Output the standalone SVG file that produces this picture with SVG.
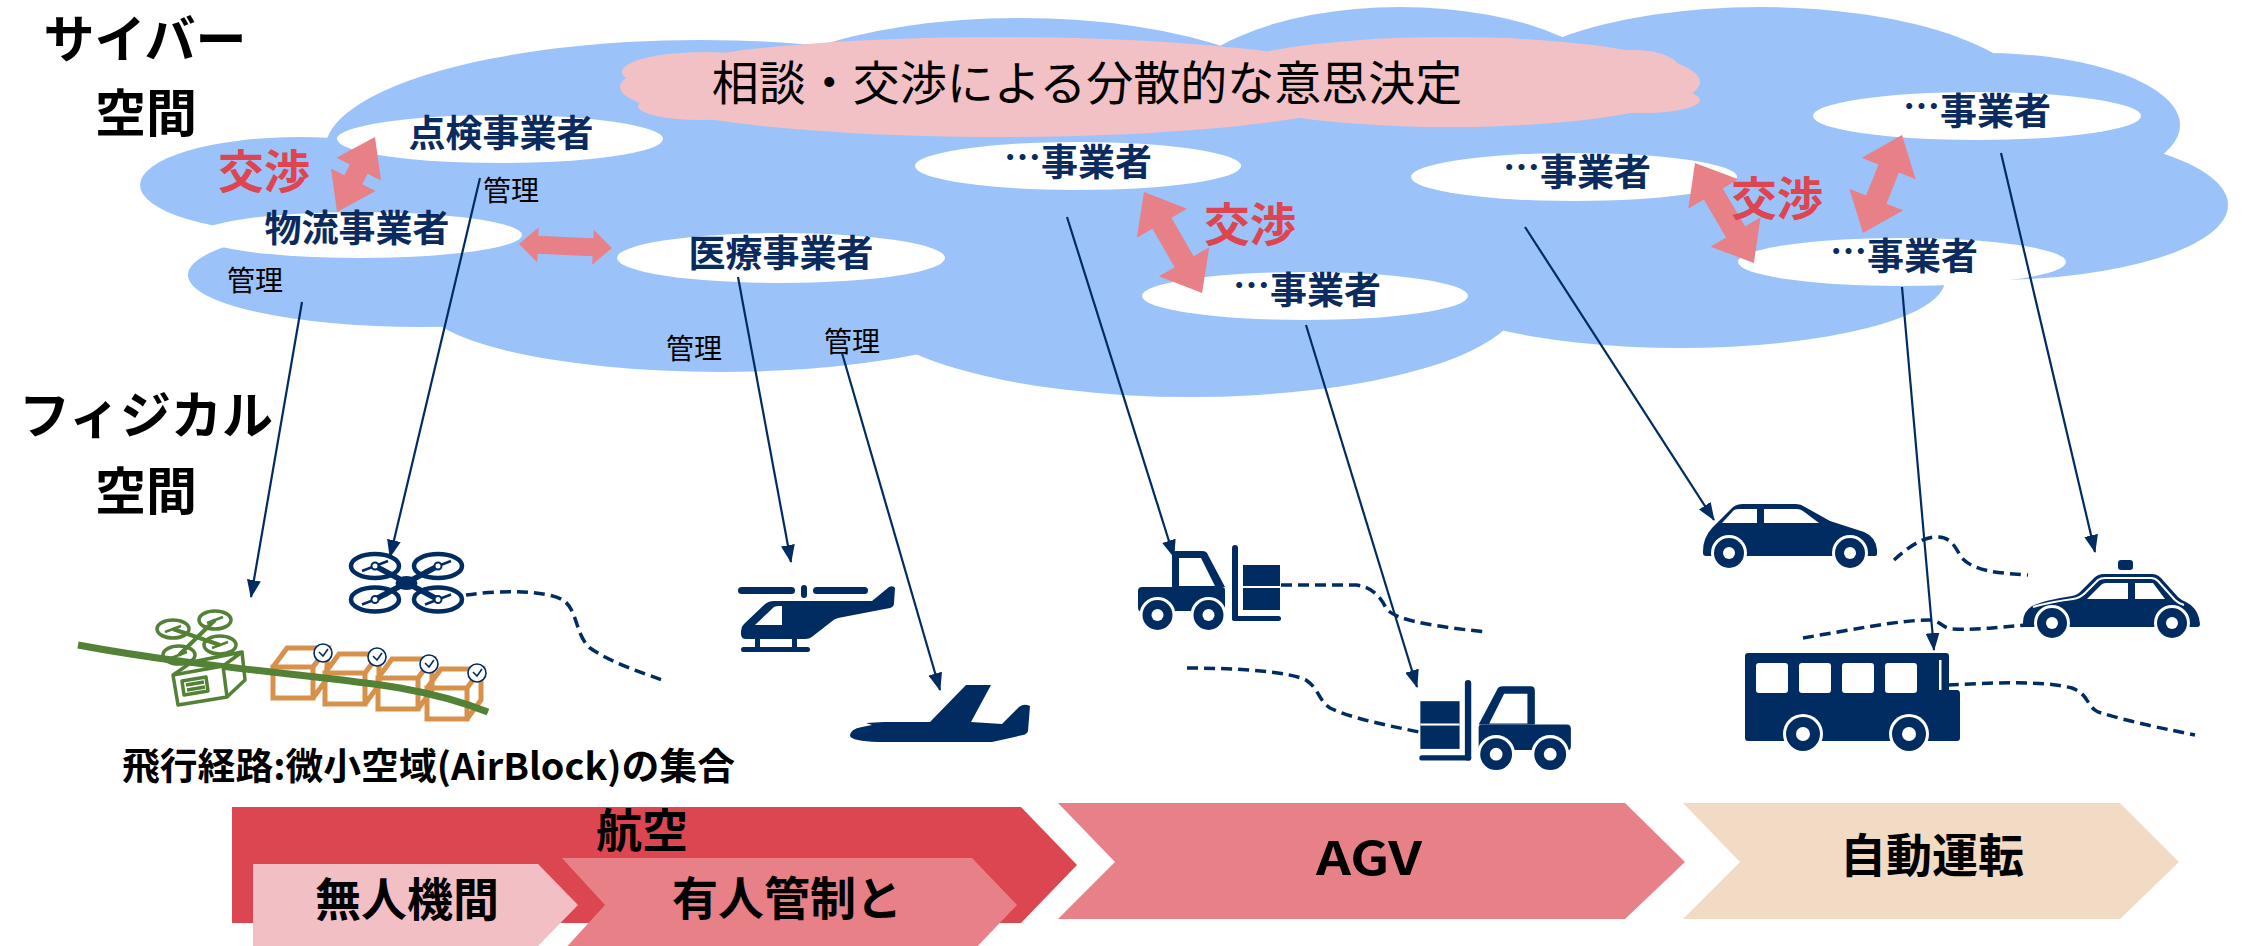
<svg xmlns="http://www.w3.org/2000/svg" xmlns:xlink="http://www.w3.org/1999/xlink" width="2242" height="946" viewBox="0 0 2242 946">
  <style>
    text { font-family: 'Noto Sans CJK JP', 'Noto Sans', sans-serif; }
    .title { font-size: 51px; font-weight: 700; fill: #000; text-anchor: middle; }
    .biz { font-size: 37px; font-weight: 700; fill: #0B2B5E; text-anchor: middle; }
    .nego { font-size: 46px; font-weight: 700; fill: #DD4650; text-anchor: middle; }
    .kanri { font-size: 28px; fill: #000; }
    .chev { font-size: 46px; font-weight: 700; fill: #000; text-anchor: middle; }
    .navy { fill: #012C62; }
    .wh { fill: #fff; }
    .oval { fill: #fff; }
    .darr { fill: #E88088; }
    .conn { stroke: #012C62; stroke-width: 2.2; fill: none; marker-end: url(#ah); }
    .dash { stroke: #012C62; stroke-width: 3.5; fill: none; stroke-dasharray: 11 6; }
    .rotor { fill: none; stroke: #012C62; stroke-width: 4.5; }
    .grn { fill: none; stroke: #538135; stroke-width: 3.5; stroke-linejoin: round; }
    .cube { fill: none; stroke: #D8914A; stroke-width: 5; stroke-linejoin: miter; }
    .clock { fill: #fff; stroke: #012C62; stroke-width: 1.6; }
  </style>
  <defs>
    <marker id="ah" viewBox="0 0 18 14" markerWidth="18" markerHeight="14" refX="17" refY="7" orient="auto" markerUnits="userSpaceOnUse">
      <path d="M0,0 L18,7 L0,14 Z" fill="#012C62"/>
    </marker>
    <g id="wheel15">
      <circle r="18" fill="#fff"/>
      <circle r="15" fill="#012C62"/>
      <circle r="6" fill="#fff"/>
    </g>
    <g id="wheel17">
      <circle r="20" fill="#fff"/>
      <circle r="17" fill="#012C62"/>
      <circle r="7" fill="#fff"/>
    </g>
    <!-- forklift drawn with the truck on the left and the mast on the right -->
    <g id="forklift">
      <path class="navy" d="M36,42 L36,10 Q36,6 40,6 L66,6 Q71,6 72,10 L89,42 Z"/>
      <path class="wh" d="M43,13 L65,13 L79,41 L43,41 Z"/>
      <path class="navy" d="M6,42 L86,42 Q89,42 89,45 L89,66 L4,66 Q2,66 2,62 L2,46 Q2,42 6,42 Z"/>
      <use xlink:href="#wheel15" x="21.5" y="70"/>
      <use xlink:href="#wheel15" x="72.5" y="70"/>
      <rect class="navy" x="96" y="0" width="6" height="76" rx="3"/>
      <rect class="navy" x="96" y="71" width="49" height="5" rx="2.5"/>
      <rect class="navy" x="107" y="20" width="37" height="45"/>
      <rect class="wh" x="107" y="41" width="37" height="2"/>
    </g>
  </defs>

  <rect width="2242" height="946" fill="#fff"/>

  <!-- cyber space cloud -->
  <g id="cyber-cloud" fill="#9BC3FA">
    <ellipse cx="300" cy="185" rx="160" ry="48"/>
    <ellipse cx="420" cy="275" rx="232" ry="52"/>
    <ellipse cx="720" cy="300" rx="300" ry="72"/>
    <ellipse cx="1190" cy="300" rx="330" ry="97"/>
    <ellipse cx="1680" cy="280" rx="265" ry="68"/>
    <ellipse cx="1990" cy="205" rx="238" ry="75"/>
    <ellipse cx="1985" cy="125" rx="195" ry="72"/>
    <ellipse cx="1760" cy="110" rx="280" ry="103"/>
    <ellipse cx="1400" cy="110" rx="230" ry="103"/>
    <ellipse cx="1020" cy="126" rx="300" ry="108"/>
    <ellipse cx="700" cy="150" rx="375" ry="110"/>
    <ellipse cx="1150" cy="200" rx="720" ry="140"/>
  </g>

  <!-- consultation cloud -->
  <g id="decision-cloud">
    <g fill="#F2C1C5">
      <ellipse cx="1000" cy="87" rx="380" ry="50"/>
      <ellipse cx="1450" cy="82" rx="250" ry="45"/>
      <ellipse cx="705" cy="72" rx="83" ry="20"/>
      <ellipse cx="700" cy="106" rx="62" ry="14"/>
      <ellipse cx="1635" cy="70" rx="45" ry="20"/>
      <ellipse cx="1645" cy="100" rx="55" ry="13"/>
    </g>
    <text x="1087" y="100" font-size="47" fill="#000" text-anchor="middle">相談・交渉による分散的な意思決定</text>
  </g>

  <!-- operator nodes -->
  <g id="node-inspection">
    <ellipse class="oval" cx="500" cy="139" rx="163" ry="24"/>
    <text class="biz" x="501" y="147">点検事業者</text>
  </g>
  <g id="node-logistics">
    <ellipse class="oval" cx="360" cy="235" rx="162" ry="23"/>
    <text class="biz" x="357" y="242">物流事業者</text>
  </g>
  <g id="node-medical">
    <ellipse class="oval" cx="781" cy="258" rx="164" ry="25"/>
    <text class="biz" x="781" y="267">医療事業者</text>
  </g>
  <g id="node-op-a">
    <ellipse class="oval" cx="1078" cy="166" rx="163" ry="24"/>
    <text class="biz" x="1078" y="176"><tspan dy="-5">…</tspan><tspan dy="5">事業者</tspan></text>
  </g>
  <g id="node-op-b">
    <ellipse class="oval" cx="1305" cy="296" rx="163" ry="24"/>
    <text class="biz" x="1307" y="304"><tspan dy="-5">…</tspan><tspan dy="5">事業者</tspan></text>
  </g>
  <g id="node-op-c">
    <ellipse class="oval" cx="1574" cy="177" rx="163" ry="24"/>
    <text class="biz" x="1577" y="186"><tspan dy="-5">…</tspan><tspan dy="5">事業者</tspan></text>
  </g>
  <g id="node-op-d">
    <ellipse class="oval" cx="1902" cy="262" rx="164" ry="24"/>
    <text class="biz" x="1904" y="270"><tspan dy="-5">…</tspan><tspan dy="5">事業者</tspan></text>
  </g>
  <g id="node-op-e">
    <ellipse class="oval" cx="1977" cy="116" rx="164" ry="24"/>
    <text class="biz" x="1977" y="125"><tspan dy="-5">…</tspan><tspan dy="5">事業者</tspan></text>
  </g>

  <!-- negotiation arrows -->
  <g id="negotiation">
    <path class="darr" transform="translate(375,137) rotate(116.9)" d="M0,0 L36,-25 L36,-10 L48,-10 L48,-25 L84,0 L48,25 L48,10 L36,10 L36,25 Z"/>
    <path class="darr" transform="translate(519,244) rotate(2.46)" d="M0,0 L19,-17.5 L19,-9 L74,-9 L74,-17.5 L93,0 L74,17.5 L74,9 L19,9 L19,17.5 Z"/>
    <path class="darr" transform="translate(1144,192) rotate(60.1)" d="M0,0 L36,-29 L36,-11 L80.5,-11 L80.5,-29 L116.5,0 L80.5,29 L80.5,11 L36,11 L36,29 Z"/>
    <path class="darr" transform="translate(1695,163) rotate(59.5)" d="M0,0 L36,-29 L36,-11 L80,-11 L80,-29 L116,0 L80,29 L80,11 L36,11 L36,29 Z"/>
    <path class="darr" transform="translate(1902,135) rotate(111.7)" d="M0,0 L36,-29 L36,-11 L69.5,-11 L69.5,-29 L105.5,0 L69.5,29 L69.5,11 L36,11 L36,29 Z"/>
    <text class="nego" x="264" y="188">交渉</text>
    <text class="nego" x="1250" y="241">交渉</text>
    <text class="nego" x="1777" y="215">交渉</text>
  </g>

  <!-- management labels -->
  <g id="kanri-labels">
    <text class="kanri" x="483" y="201">管理</text>
    <text class="kanri" x="227" y="291">管理</text>
    <text class="kanri" x="666" y="359">管理</text>
    <text class="kanri" x="824" y="352">管理</text>
  </g>

  <!-- space headings -->
  <g id="headings">
    <text class="title" x="145" y="58">サイバー</text>
    <text class="title" x="146" y="132">空間</text>
    <text class="title" x="146" y="434">フィジカル</text>
    <text class="title" x="146" y="510">空間</text>
  </g>

  <!-- movement traces -->
  <g id="traces">
    <path class="dash" d="M466,595 C500,590 545,590 563,600 C578,610 575,635 590,648 C610,662 640,672 662,680"/>
    <path class="dash" d="M1281,585 L1356,585 C1372,587 1380,596 1386,608 C1394,622 1450,628 1486,632"/>
    <path class="dash" d="M1187,668 C1240,668 1290,672 1306,680 C1320,690 1318,700 1330,708 C1350,718 1390,726 1419,732"/>
    <path class="dash" d="M1894,560 C1905,550 1920,538 1935,537 C1952,536 1955,548 1962,558 C1975,572 2000,573 2028,575"/>
    <path class="dash" d="M1803,638 C1850,630 1900,620 1929,620 C1940,620 1942,628 1952,629 C1980,630 2000,627 2028,625"/>
    <path class="dash" d="M1948,685 C1990,683 2040,680 2072,688 C2090,695 2085,705 2098,712 C2130,722 2170,730 2195,735"/>
  </g>

  <!-- flight route made of AirBlocks -->
  <g id="airblock-route">
    <g>
      <path class="cube" d="M273,667 h40 v31 h-40 Z M273,667 l14,-19 h40 l-14,19 M327,648 v31 l-14,19"/>
      <path class="cube" d="M325,673 h40 v31 h-40 Z M325,673 l14,-19 h40 l-14,19 M379,654 v31 l-14,19"/>
      <path class="cube" d="M378,678 h40 v31 h-40 Z M378,678 l14,-19 h40 l-14,19 M432,659 v31 l-14,19"/>
      <path class="cube" d="M427,688 h40 v31 h-40 Z M427,688 l14,-19 h40 l-14,19 M481,669 v31 l-14,19"/>
    </g>
    <path d="M78,645 C200,668 330,676 400,688 C440,695 470,705 488,712" fill="none" stroke="#538135" stroke-width="7"/>
    <g>
      <circle class="clock" cx="323" cy="653" r="9"/>
      <path d="M319,652 L323,656 L328,649" fill="none" stroke="#012C62" stroke-width="1.6"/>
      <circle class="clock" cx="377" cy="657" r="9"/>
      <path d="M373,656 L377,660 L382,653" fill="none" stroke="#012C62" stroke-width="1.6"/>
      <circle class="clock" cx="429" cy="664" r="9"/>
      <path d="M425,663 L429,667 L434,660" fill="none" stroke="#012C62" stroke-width="1.6"/>
      <circle class="clock" cx="477" cy="673" r="9"/>
      <path d="M473,672 L477,676 L482,669" fill="none" stroke="#012C62" stroke-width="1.6"/>
    </g>
    <!-- delivery drone carrying a parcel -->
    <g>
      <path d="M173,629 L220,645 M215,620 L179,655" fill="none" stroke="#538135" stroke-width="4"/>
      <ellipse class="grn" cx="173" cy="629" rx="16" ry="9"/>
      <ellipse class="grn" cx="215" cy="620" rx="16" ry="9"/>
      <ellipse class="grn" cx="179" cy="655" rx="16" ry="9"/>
      <ellipse class="grn" cx="220" cy="645" rx="16" ry="9"/>
      <path d="M165,632 L181,626 M207,623 L223,617 M171,658 L187,652 M212,648 L228,642" fill="none" stroke="#538135" stroke-width="2.5"/>
      <path d="M173,675 L223,666 L227,697 L178,705 Z" fill="#fff" stroke="#538135" stroke-width="3.5" stroke-linejoin="round"/>
      <path class="grn" d="M173,675 L192,662 L242,652 L223,666 M242,652 L245,680 L227,697"/>
      <path class="grn" d="M182,681 L206,677 L208,691 L184,695 Z M186,685 L204,682 M187,690 L205,687" stroke-width="2.5"/>
    </g>
    <text x="122" y="780" font-size="37" font-weight="700" fill="#000" textLength="613" lengthAdjust="spacingAndGlyphs">飛行経路:微小空域(AirBlock)の集合</text>
  </g>

  <!-- vehicles -->
  <g id="vehicle-drone">
    <path d="M375,566 L438,599.5 M438,566 L375,599.5" stroke="#012C62" stroke-width="5.5"/>
    <ellipse class="navy" cx="406.5" cy="583" rx="11" ry="7"/>
    <ellipse class="rotor" cx="375" cy="566" rx="24" ry="12"/>
    <ellipse class="rotor" cx="438" cy="566" rx="24" ry="12"/>
    <ellipse class="rotor" cx="375" cy="599.5" rx="24" ry="12"/>
    <ellipse class="rotor" cx="438" cy="599.5" rx="24" ry="12"/>
    <path d="M362,571 L388,561 M425,571 L451,561 M362,604.5 L388,594.5 M425,604.5 L451,594.5" stroke="#012C62" stroke-width="2.5"/>
    <circle cx="375" cy="566" r="3.5" fill="#fff" stroke="#012C62" stroke-width="2"/>
    <circle cx="438" cy="566" r="3.5" fill="#fff" stroke="#012C62" stroke-width="2"/>
    <circle cx="375" cy="599.5" r="3.5" fill="#fff" stroke="#012C62" stroke-width="2"/>
    <circle cx="438" cy="599.5" r="3.5" fill="#fff" stroke="#012C62" stroke-width="2"/>
  </g>

  <g id="vehicle-helicopter">
    <rect class="navy" x="738" y="587" width="57" height="7" rx="3.5"/>
    <rect class="navy" x="813" y="587" width="55" height="7" rx="3.5"/>
    <rect class="navy" x="801" y="585" width="6" height="13" rx="3"/>
    <path class="navy" d="M741,631 Q741,627 744,624 L764,605 Q768,601 774,601 L872,601 L889,587 Q893,585 895,588 L894,603 Q894,607 890,608 L838,618 Q834,619 831,622 L813,636 Q810,639 805,639 L746,639 Q741,639 741,634 Z"/>
    <path class="wh" d="M755,625 L774,607 Q776,606 779,606 L782,606 L782,625 Z"/>
    <rect class="navy" x="755" y="638" width="5" height="10"/>
    <rect class="navy" x="792" y="638" width="5" height="10"/>
    <rect class="navy" x="741" y="647" width="69" height="5" rx="2.5"/>
  </g>

  <g id="vehicle-airplane">
    <path class="navy" d="M850,736 Q850,729 862,727 L872,725 L866,723 L884,722 L930,722 L966,685 L991,685 L971,722 L1002,724 L1019,707 Q1024,703 1030,706 L1028,731 Q1027,734 1023,735 L992,742 L878,742 Q852,741 850,736 Z"/>
  </g>

  <g id="vehicle-agv-1">
    <use xlink:href="#forklift" transform="translate(1136,545)"/>
  </g>
  <g id="vehicle-agv-2">
    <use xlink:href="#forklift" transform="translate(1573,680) scale(-1.06,1.06)"/>
  </g>

  <g id="vehicle-car">
    <path class="navy" d="M1703,551 Q1703,538 1712,528 L1733,507 Q1737,504 1743,504 L1796,504 Q1801,504 1805,507 L1830,521 L1864,532 Q1876,537 1877,550 L1877,554 Q1877,556 1874,556 L1706,556 Q1703,556 1703,553 Z"/>
    <path class="wh" d="M1722,523 L1734,510 Q1736,509 1739,509 L1757,509 L1757,523 Z"/>
    <path class="wh" d="M1764,509 L1797,509 Q1800,509 1803,511 L1819,523 L1764,523 Z"/>
    <use xlink:href="#wheel15" x="1729" y="553"/>
    <use xlink:href="#wheel15" x="1850" y="553"/>
  </g>

  <g id="vehicle-police-car">
    <rect class="navy" x="2118" y="560" width="15" height="10" rx="3"/>
    <path class="navy" d="M2023,622 Q2023,612 2032,606 Q2045,600 2072,596 Q2078,595 2082,590 L2094,578 Q2098,574 2104,574 L2152,574 Q2157,574 2161,578 L2178,597 Q2181,600 2186,602 Q2196,607 2199,618 L2200,624 Q2200,627 2197,627 L2026,627 Q2023,627 2023,624 Z"/>
    <path d="M2033,607 Q2050,602 2073,599 Q2080,598 2085,593 L2098,580 Q2101,578 2105,578 L2151,578 Q2155,578 2158,581 L2175,600 Q2178,603 2184,605" fill="none" stroke="#fff" stroke-width="2"/>
    <path class="wh" d="M2087,599 L2101,585 Q2103,583 2106,583 L2128,583 L2128,599 Z"/>
    <path class="wh" d="M2135,583 L2153,583 L2165,599 L2135,599 Z"/>
    <use xlink:href="#wheel15" x="2052" y="623"/>
    <use xlink:href="#wheel15" x="2172" y="623"/>
  </g>

  <g id="vehicle-bus">
    <path class="navy" d="M1748,653 L1946,653 Q1949,653 1949,656 L1949,690 L1957,690 Q1960,690 1960,694 L1960,738 Q1960,741 1957,741 L1748,741 Q1745,741 1745,738 L1745,656 Q1745,653 1748,653 Z"/>
    <rect class="wh" x="1939" y="660" width="2.5" height="30"/>
    <rect class="wh" x="1756" y="663" width="32" height="30" rx="3"/>
    <rect class="wh" x="1799" y="663" width="32" height="30" rx="3"/>
    <rect class="wh" x="1842" y="663" width="32" height="30" rx="3"/>
    <rect class="wh" x="1885" y="663" width="32" height="30" rx="3"/>
    <use xlink:href="#wheel17" x="1803" y="734"/>
    <use xlink:href="#wheel17" x="1909" y="734"/>
  </g>

  <!-- management connectors -->
  <g id="connectors">
    <line class="conn" x1="302" y1="302" x2="251" y2="597"/>
    <line class="conn" x1="480" y1="178" x2="390" y2="557"/>
    <line class="conn" x1="738" y1="277" x2="791" y2="562"/>
    <line class="conn" x1="842" y1="353" x2="940" y2="690"/>
    <line class="conn" x1="1067" y1="217" x2="1174" y2="557"/>
    <line class="conn" x1="1306" y1="325" x2="1417" y2="687"/>
    <line class="conn" x1="1525" y1="227" x2="1714" y2="520"/>
    <line class="conn" x1="1902" y1="287" x2="1934" y2="650"/>
    <line class="conn" x1="2001" y1="153" x2="2095" y2="552"/>
  </g>

  <!-- domain chevrons -->
  <g id="chevron-aviation">
    <path d="M232,807 L1021,807 L1077,865 L1021,923 L232,923 Z" fill="#DC4650"/>
    <text class="chev" x="642" y="847">航空</text>
  </g>
  <g id="chevron-uav">
    <path d="M253,864 L538,864 L578,905 L538,946 L253,946 Z" fill="#F2C0C4"/>
    <text class="chev" x="407" y="916">無人機間</text>
  </g>
  <g id="chevron-manned">
    <path d="M562,858 L972,858 L1017,905 L972,952 L562,952 L605,905 Z" fill="#E88088"/>
    <text class="chev" x="787" y="915">有人管制と</text>
  </g>
  <g id="chevron-agv">
    <path d="M1058,803 L1625,803 L1685,862 L1625,919 L1058,919 L1115,862 Z" fill="#E88088"/>
    <text class="chev" x="1369" y="875" font-size="52" textLength="106" lengthAdjust="spacingAndGlyphs">AGV</text>
  </g>
  <g id="chevron-autodrive">
    <path d="M1683,803 L2120,803 L2179,862 L2120,919 L1683,919 L1740,862 Z" fill="#F2DBC4"/>
    <text class="chev" x="1932" y="872">自動運転</text>
  </g>
</svg>
